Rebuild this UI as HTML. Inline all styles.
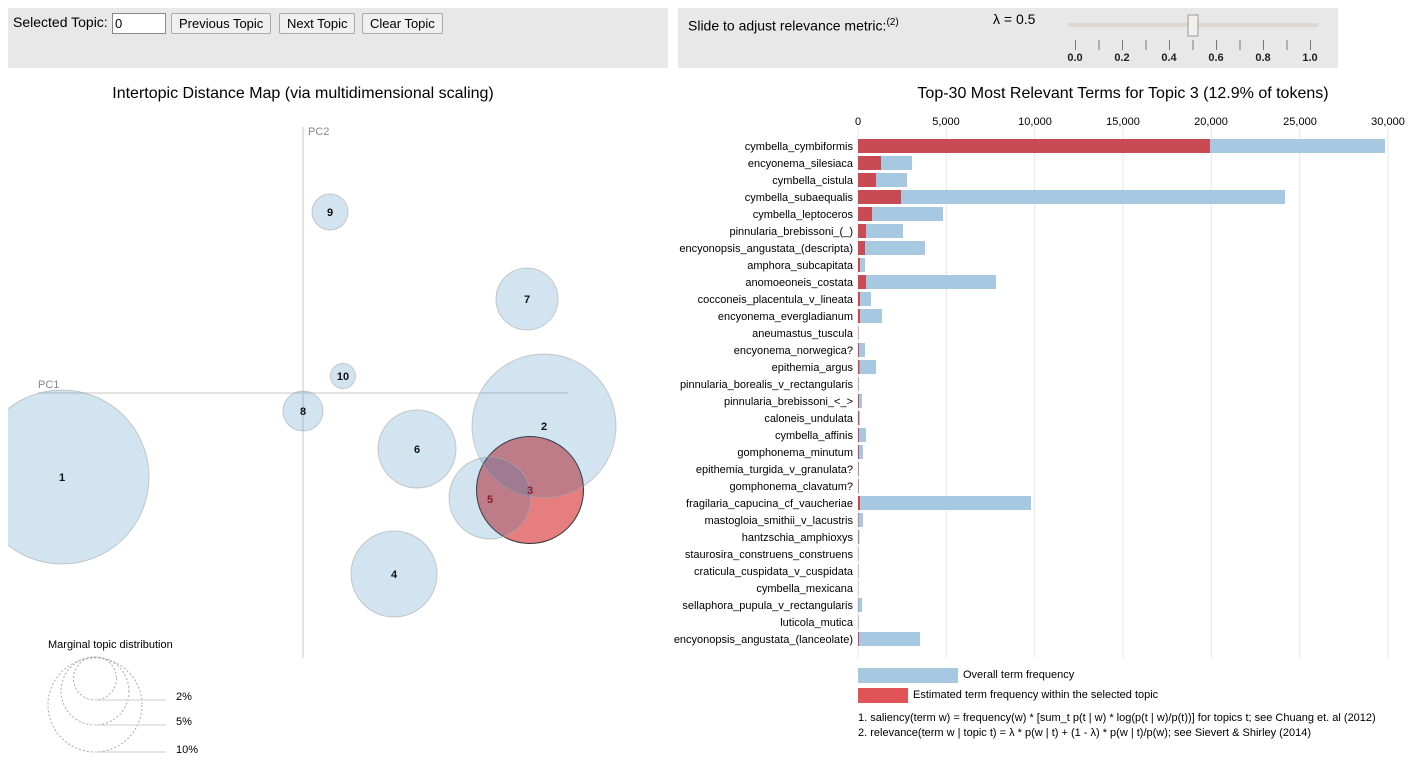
<!DOCTYPE html>
<html><head><meta charset="utf-8"><style>
body{margin:0;width:1418px;height:768px;background:#fff;font-family:"Liberation Sans",sans-serif;position:relative;overflow:hidden}
.panel{position:absolute;background:#e8e8e8}
button{font-family:"Liberation Sans",sans-serif;font-size:13px;height:21px;padding:0 7px;border:1px solid #aaa;border-radius:2px;background:#f0f0f0;position:absolute;top:13px}
</style></head><body>
<div class="panel" style="left:8px;top:8px;width:660px;height:60px"></div>
<div class="panel" style="left:678px;top:8px;width:660px;height:60px"></div>
<div style="position:absolute;left:13px;top:14px;font-size:14px">Selected Topic:</div>
<div style="position:absolute;left:112px;top:13px;width:52px;height:19px;border:1px solid #888;background:#fff;font-size:13px;line-height:19px;padding-left:2px;box-sizing:border-box;width:54px;height:21px">0</div>
<button style="left:171px">Previous Topic</button>
<button style="left:279px">Next Topic</button>
<button style="left:362px">Clear Topic</button>
<div style="position:absolute;left:688px;top:17px;font-size:14px">Slide to adjust relevance metric:<sup style="font-size:10px">(2)</sup></div>
<div style="position:absolute;left:993px;top:11px;font-size:14px">λ = 0.5</div>
<svg width="1418" height="768" style="position:absolute;left:0;top:0" font-family="Liberation Sans, sans-serif">
<rect x="1068" y="23" width="250" height="4" fill="#ddd8d2"/>
<rect x="1188" y="15" width="10" height="21" fill="#f2f0ec" stroke="#999"/>
<g stroke="#888" stroke-width="0.8"><line x1="1193" y1="22" x2="1193" y2="22"/></g>
<g stroke="#777">
<line x1="1075.5" y1="40" x2="1075.5" y2="50"/><line x1="1099" y1="40" x2="1099" y2="50"/><line x1="1122.5" y1="40" x2="1122.5" y2="50"/><line x1="1146" y1="40" x2="1146" y2="50"/><line x1="1169.5" y1="40" x2="1169.5" y2="50"/><line x1="1193" y1="40" x2="1193" y2="50"/><line x1="1216.5" y1="40" x2="1216.5" y2="50"/><line x1="1240" y1="40" x2="1240" y2="50"/><line x1="1263.5" y1="40" x2="1263.5" y2="50"/><line x1="1287" y1="40" x2="1287" y2="50"/><line x1="1310.5" y1="40" x2="1310.5" y2="50"/></g>
<g font-size="11" font-weight="bold" text-anchor="middle" fill="#222">
<text x="1075" y="61">0.0</text><text x="1122" y="61">0.2</text><text x="1169" y="61">0.4</text><text x="1216" y="61">0.6</text><text x="1263" y="61">0.8</text><text x="1310" y="61">1.0</text></g>

<text x="303" y="98" font-size="16" text-anchor="middle">Intertopic Distance Map (via multidimensional scaling)</text>
<text x="1123" y="98" font-size="16" text-anchor="middle">Top-30 Most Relevant Terms for Topic 3 (12.9% of tokens)</text>

<!-- MDS plot -->
<defs><clipPath id="c"><rect x="8" y="110" width="660" height="560"/></clipPath></defs>
<g clip-path="url(#c)">
<line x1="38" y1="393" x2="568" y2="393" stroke="#e4e4e4" stroke-width="2"/>
<line x1="303" y1="127" x2="303" y2="658" stroke="#e4e4e4" stroke-width="2"/>
<circle cx="530" cy="490" r="53.5" fill="#d62728" fill-opacity="0.6" stroke="#333" stroke-width="1"/>
<g fill="#1f77b4" fill-opacity="0.2" stroke="#aaa" stroke-opacity="0.6">
<circle cx="62" cy="477" r="87"/><circle cx="544" cy="426" r="72"/><circle cx="394" cy="574" r="43"/><circle cx="490" cy="498" r="41"/><circle cx="417" cy="449" r="39"/><circle cx="527" cy="299" r="31"/><circle cx="303" cy="411" r="20"/><circle cx="330" cy="212" r="18"/><circle cx="343" cy="376" r="12.5"/></g>
</g>
<text x="38" y="388" font-size="11" fill="#888">PC1</text>
<text x="308" y="135" font-size="11" fill="#888">PC2</text>
<g font-size="11" font-weight="bold" text-anchor="middle" fill="#111">
<text x="62" y="481">1</text><text x="544" y="430">2</text><text x="394" y="578">4</text><text x="417" y="453">6</text><text x="527" y="303">7</text><text x="303" y="415">8</text><text x="330" y="216">9</text><text x="343" y="380">10</text></g>
<g font-size="11" font-weight="bold" text-anchor="middle" fill="#8b1a2a"><text x="490" y="503">5</text><text x="530" y="494">3</text></g>

<text x="48" y="648" font-size="11">Marginal topic distribution</text>
<g fill="none" stroke="#aaa" stroke-dasharray="2,2"><circle cx="95" cy="678.5" r="21.5"/><circle cx="95" cy="691" r="34"/><circle cx="95" cy="705" r="47"/></g>
<g stroke="#ccc"><line x1="95" y1="700" x2="166" y2="700"/><line x1="95" y1="725" x2="166" y2="725"/><line x1="95" y1="752" x2="166" y2="752"/></g>
<g font-size="11"><text x="176" y="700">2%</text><text x="176" y="725">5%</text><text x="176" y="753">10%</text></g>

<!-- bar chart -->
<g stroke="#e6e6e6"><line x1="858" y1="127" x2="858" y2="658"/><line x1="946.3" y1="127" x2="946.3" y2="658"/><line x1="1034.7" y1="127" x2="1034.7" y2="658"/><line x1="1123" y1="127" x2="1123" y2="658"/><line x1="1211.3" y1="127" x2="1211.3" y2="658"/><line x1="1299.7" y1="127" x2="1299.7" y2="658"/><line x1="1388" y1="127" x2="1388" y2="658"/></g>
<g font-size="11" text-anchor="middle"><text x="858" y="125">0</text><text x="946" y="125">5,000</text><text x="1035" y="125">10,000</text><text x="1123" y="125">15,000</text><text x="1211" y="125">20,000</text><text x="1300" y="125">25,000</text><text x="1388" y="125">30,000</text></g>
<g id="bars"></g>
<rect x="858" y="668" width="100" height="15" fill="#a6c8e0"/>
<rect x="858" y="688" width="50" height="15" fill="#e05458"/>
<text x="963" y="678" font-size="11">Overall term frequency</text>
<text x="913" y="698" font-size="11">Estimated term frequency within the selected topic</text>
<text x="858" y="721" font-size="11">1. saliency(term w) = frequency(w) * [sum_t p(t | w) * log(p(t | w)/p(t))] for topics t; see Chuang et. al (2012)</text>
<text x="858" y="736" font-size="11">2. relevance(term w | topic t) = λ * p(w | t) + (1 - λ) * p(w | t)/p(w); see Sievert &amp; Shirley (2014)</text>
</svg>
<script>
var d=[["cymbella_cymbiformis",1385,1210],["encyonema_silesiaca",912,881],["cymbella_cistula",907,876],["cymbella_subaequalis",1285,901],["cymbella_leptoceros",943,872],["pinnularia_brebissoni_(_)",903,866],["encyonopsis_angustata_(descripta)",925,865],["amphora_subcapitata",865,860],["anomoeoneis_costata",996,866],["cocconeis_placentula_v_lineata",871,860],["encyonema_evergladianum",882,860],["aneumastus_tuscula",858.6,858.4],["encyonema_norwegica?",865,859],["epithemia_argus",876,859.5],["pinnularia_borealis_v_rectangularis",858.7,858.4],["pinnularia_brebissoni_<_>",862,859],["caloneis_undulata",860,859],["cymbella_affinis",866,859],["gomphonema_minutum",863,859],["epithemia_turgida_v_granulata?",859,858.5],["gomphonema_clavatum?",859,858.5],["fragilaria_capucina_cf_vaucheriae",1031,860],["mastogloia_smithii_v_lacustris",863,858.5],["hantzschia_amphioxys",859.5,858.5],["staurosira_construens_construens",858.6,858.3],["craticula_cuspidata_v_cuspidata",858.6,858.3],["cymbella_mexicana",858.4,858.2],["sellaphora_pupula_v_rectangularis",862,858.3],["luticola_mutica",858.6,858.3],["encyonopsis_angustata_(lanceolate)",920,859]];
var s="";d.forEach(function(r,i){var y=139+17*i;
s+='<rect x="858" y="'+y+'" width="'+(r[1]-858)+'" height="14" fill="#a6c8e0"/>';
s+='<rect x="858" y="'+y+'" width="'+(r[2]-858)+'" height="14" fill="#c9434b" fill-opacity="0.95"/>';
s+='<text x="853" y="'+(y+11)+'" font-size="11" text-anchor="end">'+r[0].replace(/&/g,"&amp;").replace(/</g,"&lt;").replace(/>/g,"&gt;")+'</text>';});
document.getElementById("bars").innerHTML=s;
</script>
</body></html>
